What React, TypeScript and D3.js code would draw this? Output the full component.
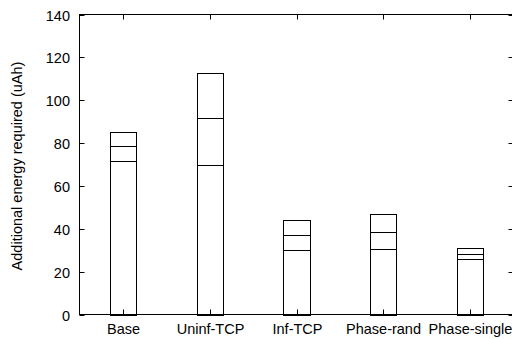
import React, { useRef, useEffect } from 'react';
import * as d3 from 'd3';

const categories = ['Base', 'Uninf-TCP', 'Inf-TCP', 'Phase-rand', 'Phase-single'];
// stacked segments, bottom to top
const seg1 = [71.6, 70.0, 30.1, 30.7, 25.9];
const seg2 = [6.9, 21.7, 6.9, 7.9, 2.5];
const seg3 = [6.9, 21.1, 7.2, 8.3, 2.7];
const yTicks = [0, 20, 40, 60, 80, 100, 120, 140];

const W = 512;
const H = 339;

const App = () => {
  const svgRef = useRef<SVGSVGElement>(null);

  useEffect(() => {
    const svg = d3.select(svgRef.current);
    svg.selectAll('*').remove();

    const left = 79.5;
    const right = 513.5;
    const top = 14.5;
    const bottom = 314.5;
    const font = 'Liberation Sans, Arial, Helvetica, sans-serif';

    const x = d3.scaleLinear().domain([-0.5, 4.5]).range([left, right]);
    const y = d3.scaleLinear().domain([0, 140]).range([bottom, top]);

    const g = svg.append('g');

    // bars
    const stacks = d3.stack<number>().keys(['0', '1', '2'])
      .value((i, k) => [seg1, seg2, seg3][+k][i])(d3.range(categories.length));

    const bw = 0.3;
    stacks.forEach(layer => {
      g.selectAll(null)
        .data(layer)
        .enter()
        .append('rect')
        .attr('x', (_, i) => Math.round(x(i - bw / 2)) + 0.5)
        .attr('width', (_, i) => Math.round(x(i + bw / 2)) - Math.round(x(i - bw / 2)))
        .attr('y', d => Math.round(y(d[1])) + 0.5)
        .attr('height', d => Math.round(y(d[0])) - Math.round(y(d[1])))
        .attr('fill', 'none')
        .attr('stroke', '#000')
        .attr('stroke-width', 1);
    });

    // frame
    g.append('rect')
      .attr('x', left)
      .attr('y', top)
      .attr('width', right - left)
      .attr('height', bottom - top)
      .attr('fill', 'none')
      .attr('stroke', '#000')
      .attr('stroke-width', 1);

    // y ticks (left and right, inward)
    yTicks.forEach(t => {
      const yy = Math.round(y(t)) + 0.5;
      g.append('line').attr('x1', left).attr('x2', left + 5).attr('y1', yy).attr('y2', yy).attr('stroke', '#000');
      g.append('line').attr('x1', right).attr('x2', right - 5).attr('y1', yy).attr('y2', yy).attr('stroke', '#000');
      g.append('text')
        .attr('x', 70)
        .attr('y', yy)
        .attr('dy', '0.35em')
        .attr('text-anchor', 'end')
        .attr('font-family', font)
        .attr('font-size', 14.5)
        .attr('fill', '#000')
        .text(t);
    });

    // x ticks (bottom and top, inward)
    categories.forEach((c, i) => {
      const xx = Math.round(x(i)) + 0.5;
      g.append('line').attr('x1', xx).attr('x2', xx).attr('y1', bottom).attr('y2', bottom - 5).attr('stroke', '#000');
      g.append('line').attr('x1', xx).attr('x2', xx).attr('y1', top).attr('y2', top + 5).attr('stroke', '#000');
      g.append('text')
        .attr('x', xx)
        .attr('y', 333.5)
        .attr('text-anchor', 'middle')
        .attr('font-family', font)
        .attr('font-size', 14.5)
        .attr('fill', '#000')
        .text(c);
    });

    // y axis label
    svg.append('text')
      .attr('transform', 'rotate(-90)')
      .attr('x', -166)
      .attr('y', 22)
      .attr('text-anchor', 'middle')
      .attr('font-family', font)
      .attr('font-size', 14.5)
      .attr('fill', '#000')
      .text('Additional energy required (uAh)');
  }, []);

  return (
    <svg
      ref={svgRef}
      width={W}
      height={H}
      style={{ position: 'absolute', left: 0, top: 0, background: '#fff' }}
    />
  );
};

export default App;
